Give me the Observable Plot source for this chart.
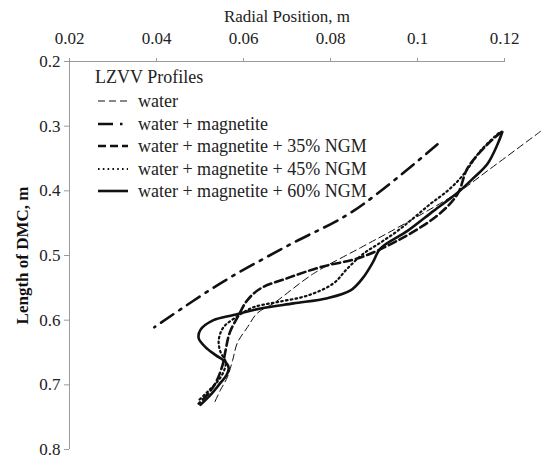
<!DOCTYPE html>
<html>
<head>
<meta charset="utf-8">
<script src="https://cdn.jsdelivr.net/npm/d3@7"></script>
<script src="https://cdn.jsdelivr.net/npm/@observablehq/plot@0.6"></script>
<style>
  html, body { margin: 0; padding: 0; background: #fff; }
  #chart { width: 553px; height: 459px; }
  #chart svg, #chart svg text { font-family: "Liberation Serif", "Times New Roman", serif !important; }
</style>
</head>
<body>
<div id="chart"></div>
<script>
// ---- data ----
const seriesNames = [
  "water",
  "water + magnetite",
  "water + magnetite + 35% NGM",
  "water + magnetite + 45% NGM",
  "water + magnetite + 60% NGM"
];
const legendTitle = "LZVV Profiles";
const xTicks = [0.02, 0.04, 0.06, 0.08, 0.1, 0.12];
const xTickLabels = ["0.02", "0.04", "0.06", "0.08", "0.1", "0.12"];
const yTicks = [0.2, 0.3, 0.4, 0.5, 0.6, 0.7, 0.8];
const yTickLabels = ["0.2", "0.3", "0.4", "0.5", "0.6", "0.7", "0.8"];

const waterX = [0.1283, 0.1161, 0.1092, 0.0954, 0.0869, 0.0761, 0.0669, 0.0632, 0.0609, 0.0586, 0.0575, 0.0563, 0.0547, 0.0531];
const waterY = [0.308, 0.369, 0.403, 0.457, 0.488, 0.528, 0.574, 0.589, 0.611, 0.635, 0.662, 0.688, 0.708, 0.731];

const magX = [0.1046, 0.0853, 0.0701, 0.0547, 0.0395];
const magY = [0.328, 0.431, 0.485, 0.543, 0.611];

const ngm35X = [0.1193, 0.1161, 0.1115, 0.1092, 0.1046, 0.0954, 0.0869, 0.0777, 0.0701, 0.0639, 0.0609, 0.0589, 0.0568, 0.0559, 0.0552, 0.0536, 0.0517, 0.0497];
const ngm35Y = [0.309, 0.328, 0.365, 0.405, 0.438, 0.477, 0.503, 0.518, 0.535, 0.551, 0.569, 0.592, 0.620, 0.646, 0.669, 0.697, 0.715, 0.729];

const ngm45X = [0.1186, 0.1145, 0.1103, 0.1069, 0.1030, 0.0991, 0.0954, 0.0915, 0.0876, 0.0839, 0.0807, 0.0747, 0.0678, 0.0623, 0.0586, 0.0554, 0.0543, 0.0547, 0.0559, 0.0554, 0.0540, 0.0517, 0.0494];
const ngm45Y = [0.311, 0.338, 0.377, 0.400, 0.420, 0.442, 0.462, 0.480, 0.497, 0.520, 0.543, 0.562, 0.572, 0.580, 0.594, 0.611, 0.631, 0.649, 0.665, 0.680, 0.695, 0.711, 0.726];

const ngm60X = [0.1195, 0.1184, 0.1161, 0.1129, 0.1092, 0.1037, 0.0977, 0.0915, 0.0897, 0.0874, 0.0846, 0.0793, 0.0715, 0.0639, 0.0577, 0.0531, 0.0501, 0.0497, 0.0513, 0.0536, 0.0559, 0.0566, 0.0561, 0.0547, 0.0529, 0.0501];
const ngm60Y = [0.309, 0.328, 0.358, 0.380, 0.403, 0.431, 0.462, 0.489, 0.511, 0.535, 0.554, 0.566, 0.574, 0.582, 0.592, 0.600, 0.615, 0.628, 0.642, 0.654, 0.665, 0.674, 0.685, 0.697, 0.712, 0.731];

// ---- build rows ----
const toRows = (xs, ys, name) => xs.map((x, i) => ({x, y: ys[i], name}));
const seriesData = [
  toRows(waterX, waterY, seriesNames[0]),
  toRows(magX, magY, seriesNames[1]),
  toRows(ngm35X, ngm35Y, seriesNames[2]),
  toRows(ngm45X, ngm45Y, seriesNames[3]),
  toRows(ngm60X, ngm60Y, seriesNames[4])
];
const styles = [
  {stroke: "#111", strokeWidth: 1, strokeDasharray: "7,4"},
  {stroke: "#111", strokeWidth: 2.6, strokeDasharray: "15,7,2.5,7"},
  {stroke: "#111", strokeWidth: 2.6, strokeDasharray: "8,4"},
  {stroke: "#111", strokeWidth: 2.2, strokeDasharray: "1.6,3.2"},
  {stroke: "#111", strokeWidth: 2.6}
];

const font = "Liberation Serif";
const axisGray = "#9a9a9a";

const chart = Plot.plot({
  width: 553,
  height: 459,
  marginLeft: 69,
  marginRight: 49,
  marginTop: 61,
  marginBottom: 10,
  style: {fontFamily: font, fontSize: "17px", color: "#222", background: "#fff", overflow: "visible"},
  x: {domain: [0.02, 0.12]},
  y: {domain: [0.2, 0.8], reverse: true},
  marks: [
    Plot.ruleY([0.2], {stroke: axisGray, strokeWidth: 1}),
    Plot.ruleX([0.02], {stroke: axisGray, strokeWidth: 1}),
    Plot.axisX({
      anchor: "top", ticks: xTicks, tickSize: 4, tickPadding: 14,
      tickFormat: (d, i) => xTickLabels[i], stroke: axisGray, fill: "#222", label: null
    }),
    Plot.axisY({
      anchor: "left", ticks: yTicks, tickSize: 5, tickPadding: 4,
      tickFormat: (d, i) => yTickLabels[i], stroke: axisGray, fill: "#222", label: null
    }),
    Plot.text(["Radial Position, m"], {
      frameAnchor: "top", dy: -52, fill: "#222", fontSize: 17
    }),
    Plot.text(["Length of DMC, m"], {
      frameAnchor: "left", textAnchor: "middle", dx: -47, rotate: -90,
      fill: "#111", fontWeight: "bold", fontSize: 17
    }),
    ...seriesData.map((rows, i) => Plot.line(rows, {
      x: "x", y: "y", curve: "catmull-rom", fill: "none", ...styles[i]
    }))
  ]
});

// ---- legend drawn into the same SVG ----
const svg = d3.select(chart);
const lg = svg.append("g")
  .attr("font-family", font).attr("font-size", 18).attr("fill", "#222")
  .attr("text-anchor", "start");
lg.append("text").attr("x", 95).attr("y", 77).attr("dy", "0.35em").text(legendTitle);
const rowY = [101, 124, 146, 169, 191];
seriesNames.forEach((name, i) => {
  const s = styles[i];
  const ln = lg.append("line")
    .attr("x1", 98).attr("x2", 128).attr("y1", rowY[i]).attr("y2", rowY[i])
    .attr("stroke", s.stroke).attr("stroke-width", s.strokeWidth);
  if (s.strokeDasharray) ln.attr("stroke-dasharray", s.strokeDasharray);
  lg.append("text").attr("x", 138).attr("y", rowY[i]).attr("dy", "0.35em").text(name);
});

document.getElementById("chart").appendChild(chart);
</script>
</body>
</html>
